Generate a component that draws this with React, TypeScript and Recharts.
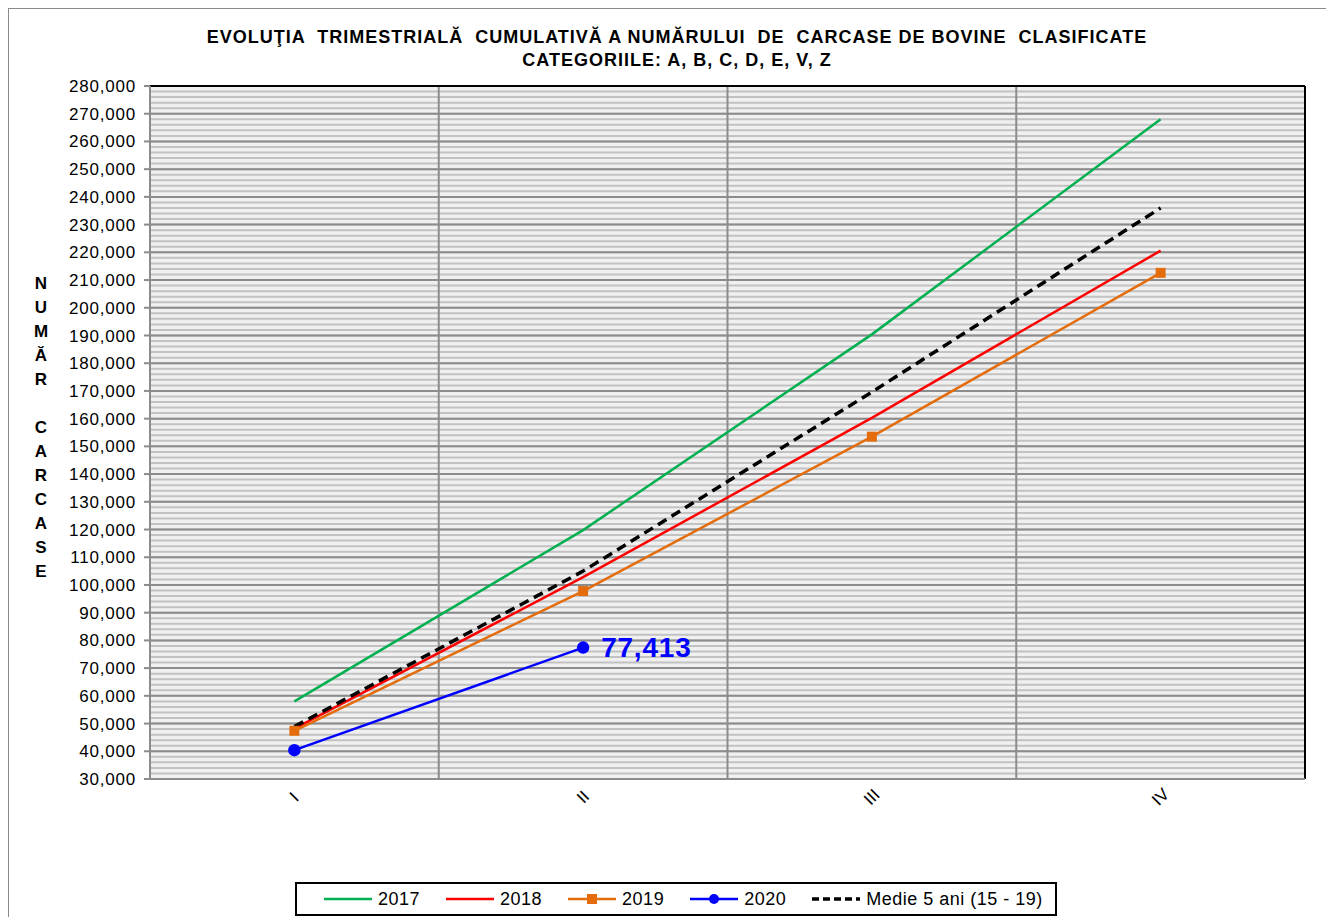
import React from "react";
import {
  LineChart,
  Line,
  XAxis,
  YAxis,
  CartesianGrid,
  ReferenceLine,
  LabelList,
} from "recharts";

const quarters = ["I", "II", "III", "IV"];
const s2017 = [58000, 119800, 190400, 268000];
const s2018 = [48200, 102800, 160300, 220600];
const s2019 = [47400, 97800, 153500, 212600];
const s2020 = [40400, 77413, null, null];
const medie = [48900, 105000, 169600, 236000];

const yTicks = [
  30000, 40000, 50000, 60000, 70000, 80000, 90000, 100000, 110000, 120000,
  130000, 140000, 150000, 160000, 170000, 180000, 190000, 200000, 210000,
  220000, 230000, 240000, 250000, 260000, 270000, 280000,
];
// minor grid every 2,000 (the striped background)
const yMinor = Array.from({ length: 126 }, (_, i) => 30000 + i * 2000);
const xBounds = [0, 1, 2, 3, 4];
const xCenters = [0.5, 1.5, 2.5, 3.5];

const yLabel = ["N", "U", "M", "Ă", "R", "", "C", "A", "R", "C", "A", "S", "E"];

const data = quarters.map((q, i) => ({
  q,
  pos: i + 0.5,
  y2017: s2017[i],
  y2018: s2018[i],
  y2019: s2019[i],
  y2020: s2020[i],
  medie: medie[i],
}));

const FONT = "'Liberation Sans', Arial, sans-serif";

const fmt = (v: number) => v.toLocaleString("en-US");

function QuarterTick(props: any) {
  const { x, y, payload } = props;
  const label = quarters[Math.floor(payload.value)];
  return (
    <g transform={`translate(${x},${y + 10})`}>
      <text
        transform="rotate(-45)"
        textAnchor="middle"
        dominantBaseline="central"
        fontFamily={FONT}
        fontSize={17}
        fill="#000"
      >
        {label}
      </text>
    </g>
  );
}

function SquareDot(props: any) {
  const { cx, cy, index } = props;
  if (cx == null || cy == null) return <g key={index} />;
  return <rect key={index} x={cx - 5} y={cy - 5} width={10} height={10} fill="#e46c0a" />;
}

function LastLabel(props: any) {
  const { x, y, value, index } = props;
  if (value == null || index !== 1) return null;
  return (
    <text
      x={x + 18}
      y={y}
      dominantBaseline="central"
      fontFamily={FONT}
      fontSize={28}
      fontWeight="bold"
      letterSpacing={0.8}
      fill="#0000ff"
    >
      {fmt(value)}
    </text>
  );
}

function LegendItem({ color, kind, label }: { color: string; kind: string; label: string }) {
  return (
    <div style={{ display: "flex", alignItems: "center", whiteSpace: "nowrap", flexShrink: 0 }}>
      <svg width={50} height={12} style={{ marginRight: 5 }}>
        <line
          x1={1}
          y1={6}
          x2={49}
          y2={6}
          stroke={color}
          strokeWidth={kind === "dash" ? 3.5 : 2.5}
          strokeDasharray={kind === "dash" ? "7 4" : undefined}
        />
        {kind === "square" && <rect x={20} y={1} width={10} height={10} fill={color} />}
        {kind === "circle" && <circle cx={25} cy={6} r={5} fill={color} />}
      </svg>
      <span>{label}</span>
    </div>
  );
}

export default function App() {
  return (
    <div
      style={{
        position: "relative",
        width: 1330,
        height: 915,
        border: "1px solid #8a8a8a",
        fontFamily: FONT,
        background: "#fff",
      }}
    >
      <div
        style={{
          position: "absolute",
          top: 17,
          left: 0,
          width: 1336,
          textAlign: "center",
          fontWeight: "bold",
          fontSize: 18,
          letterSpacing: 1,
          lineHeight: "23px",
          whiteSpace: "pre",
        }}
      >
        {"EVOLUŢIA  TRIMESTRIALĂ  CUMULATIVĂ A NUMĂRULUI  DE  CARCASE DE BOVINE  CLASIFICATE"}
        <br />
        {"CATEGORIILE: A, B, C, D, E, V, Z"}
      </div>

      <div style={{ position: "absolute", left: 20, top: 263, width: 24 }}>
        {yLabel.map((c, i) => (
          <div
            key={i}
            style={{
              height: 24,
              lineHeight: "24px",
              textAlign: "center",
              fontWeight: "bold",
              fontSize: 17,
            }}
          >
            {c || "\u00a0"}
          </div>
        ))}
      </div>

      <LineChart
        width={1320}
        height={905}
        data={data}
        margin={{ top: 77, right: 24, left: 61, bottom: 95 }}
      >
        <CartesianGrid
          horizontalValues={yMinor}
          vertical={false}
          stroke="#c2c2c2"
          strokeWidth={2}
          fill="#f0f0f0"
        />
        <CartesianGrid
          horizontalValues={yTicks}
          verticalValues={xBounds}
          stroke="#8c8c8c"
          strokeWidth={2}
        />
        <XAxis
          xAxisId="bounds"
          dataKey="pos"
          type="number"
          domain={[0, 4]}
          ticks={xBounds}
          tick={false}
          tickSize={6}
          tickLine={{ stroke: "#8c8c8c", strokeWidth: 2 }}
          axisLine={false}
          height={0}
        />
        <XAxis
          dataKey="pos"
          type="number"
          domain={[0, 4]}
          ticks={xCenters}
          interval={0}
          tick={<QuarterTick />}
          tickLine={false}
          axisLine={{ stroke: "#8c8c8c", strokeWidth: 2 }}
          height={40}
        />
        <YAxis
          yAxisId="minor"
          domain={[30000, 280000]}
          ticks={yMinor}
          interval={0}
          tick={false}
          tickSize={3}
          tickLine={{ stroke: "#8c8c8c" }}
          axisLine={false}
          width={0}
        />
        <YAxis
          domain={[30000, 280000]}
          ticks={yTicks}
          interval={0}
          tickFormatter={fmt}
          tickSize={6}
          tickMargin={8}
          tickLine={{ stroke: "#8c8c8c", strokeWidth: 2 }}
          axisLine={{ stroke: "#8c8c8c", strokeWidth: 2 }}
          tick={{ fill: "#000", fontSize: 17, fontFamily: FONT, letterSpacing: 0.8 }}
          width={80}
        />
        <ReferenceLine y={280000} stroke="#000" strokeWidth={2} />
        <ReferenceLine x={4} stroke="#000" strokeWidth={2} />
        <Line
          dataKey="y2017"
          type="linear"
          stroke="#00b050"
          strokeWidth={2.5}
          dot={false}
          isAnimationActive={false}
        />
        <Line
          dataKey="y2018"
          type="linear"
          stroke="#ff0000"
          strokeWidth={2.5}
          dot={false}
          isAnimationActive={false}
        />
        <Line
          dataKey="y2019"
          type="linear"
          stroke="#e46c0a"
          strokeWidth={2.5}
          dot={<SquareDot />}
          isAnimationActive={false}
        />
        <Line
          dataKey="medie"
          type="linear"
          stroke="#000"
          strokeWidth={3.5}
          strokeDasharray="10 6"
          dot={false}
          isAnimationActive={false}
        />
        <Line
          dataKey="y2020"
          type="linear"
          stroke="#0000ff"
          strokeWidth={2.5}
          dot={{ r: 5, fill: "#0000ff", stroke: "#0000ff" }}
          isAnimationActive={false}
        >
          <LabelList dataKey="y2020" content={<LastLabel />} />
        </Line>
      </LineChart>

      <div
        style={{
          position: "absolute",
          left: 286,
          top: 873,
          width: 732,
          height: 30,
          border: "2px solid #000",
          display: "flex",
          alignItems: "center",
          gap: 25,
          paddingLeft: 26,
          boxSizing: "content-box",
          fontSize: 18,
          letterSpacing: 0.5,
        }}
      >
        <LegendItem color="#00b050" kind="line" label="2017" />
        <LegendItem color="#ff0000" kind="line" label="2018" />
        <LegendItem color="#e46c0a" kind="square" label="2019" />
        <LegendItem color="#0000ff" kind="circle" label="2020" />
        <LegendItem color="#000" kind="dash" label="Medie 5 ani (15 - 19)" />
      </div>
    </div>
  );
}
